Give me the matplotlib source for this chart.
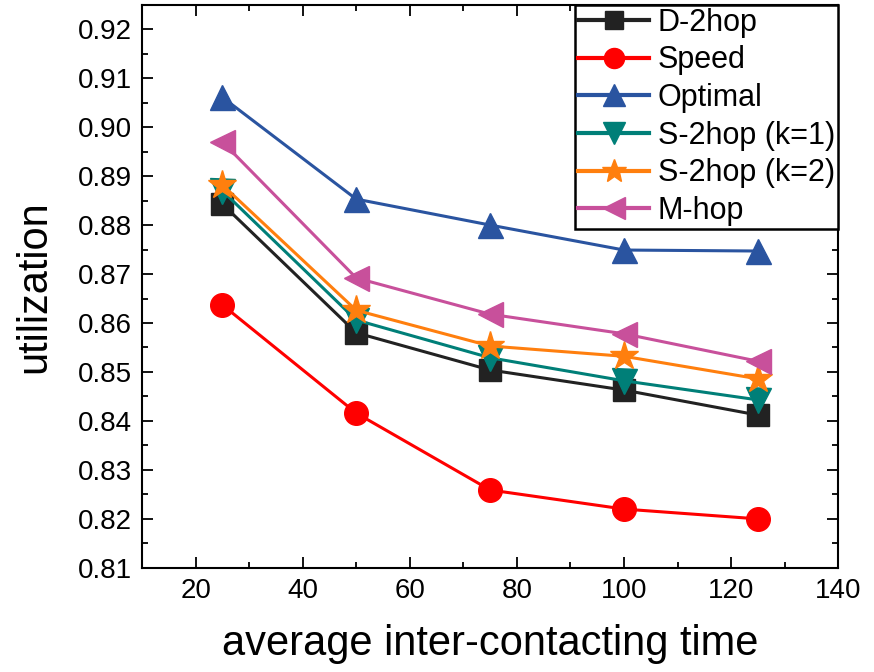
import numpy as np
from matplotlib import pyplot as plt
from matplotlib.ticker import MultipleLocator

plt.rcParams['font.family'] = ['Liberation Sans', 'DejaVu Sans']

# data
x = [25, 50, 75, 100, 125]
d2hop = [0.8843, 0.8580, 0.8504, 0.8463, 0.8412]
speed = [0.8637, 0.8416, 0.8259, 0.8220, 0.8200]
optimal = [0.9061, 0.8853, 0.8800, 0.8749, 0.8747]
s2hop_k1 = [0.8870, 0.8606, 0.8529, 0.8482, 0.8443]
s2hop_k2 = [0.8882, 0.8626, 0.8553, 0.8532, 0.8486]
mhop = [0.8970, 0.8692, 0.8618, 0.8578, 0.8522]

fig = plt.figure(figsize=(8.74, 6.72), dpi=100)
ax = fig.add_axes([0.1625, 0.155, 0.7965, 0.838])

ax.plot(x, d2hop, marker='s', markersize=16, color='#222222', lw=2.2, label='D-2hop')
ax.plot(x, speed, marker='o', markersize=17, color='#ff0000', lw=2.2, label='Speed')
ax.plot(x, optimal, marker='^', markersize=18, color='#2a54a0', lw=2.2, label='Optimal')
ax.plot(x, s2hop_k1, marker='v', markersize=18, color='#007f78', lw=2.2, label='S-2hop (k=1)')
ax.plot(x, s2hop_k2, marker='*', markersize=21, color='#ff7f0e', lw=2.2, label='S-2hop (k=2)')
ax.plot(x, mhop, marker='<', markersize=18, color='#c8509b', lw=2.2, label='M-hop')

ax.set_xlim(10, 140)
ax.set_ylim(0.81, 0.925)
ax.xaxis.set_major_locator(MultipleLocator(20))
ax.xaxis.set_minor_locator(MultipleLocator(10))
ax.yaxis.set_major_locator(MultipleLocator(0.01))
ax.yaxis.set_minor_locator(MultipleLocator(0.005))
ax.tick_params(which='both', direction='in', top=True, right=True, labelsize=20, width=1.3, pad=7)
ax.tick_params(which='major', length=8)
ax.tick_params(which='minor', length=4)
for s in ax.spines.values():
    s.set_linewidth(1.5)

ax.set_xlabel('average inter-contacting time', fontsize=30, labelpad=15)
ax.set_ylabel('utilization', fontsize=30, labelpad=17)

leg = ax.legend(loc='upper right', fontsize=22, frameon=True, fancybox=False,
                borderaxespad=0, handlelength=2.3, handletextpad=0.3,
                labelspacing=0.25, borderpad=0.1, markerscale=0.85)
leg.get_frame().set_edgecolor('black')
leg.get_frame().set_linewidth(1.8)
leg.get_frame().set_alpha(1)
for line in leg.get_lines():
    line.set_linewidth(3)

plt.savefig('out.png', dpi=100)
